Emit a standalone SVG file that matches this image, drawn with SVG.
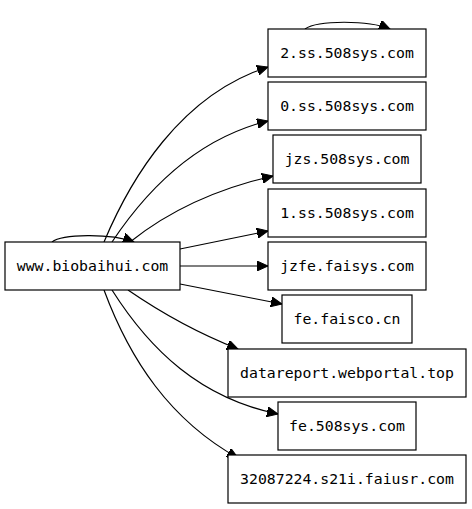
<svg xmlns="http://www.w3.org/2000/svg" width="472" height="509" viewBox="0 0 472 509">
<style>
.n rect{fill:#fff;stroke:#000;stroke-width:1.2}
.n text{font-family:"DejaVu Sans Mono","Liberation Mono",monospace;font-size:14.8px;fill:#000;text-anchor:middle}
.e path{fill:none;stroke:#000;stroke-width:1.2}
</style>
<defs>
<marker id="a" markerUnits="userSpaceOnUse" markerWidth="12" markerHeight="10" viewBox="0 0 12 10" refX="11" refY="5" orient="auto">
<path d="M0,0 L11,5 L0,10 Z" fill="#000" stroke="#000" stroke-width="1"/>
</marker>
</defs>
<rect width="472" height="509" fill="#fff"/>
<g id="edges" class="e">
<path d="M52,242 C62,234 110,233 134,242" marker-end="url(#a)"/>
<path d="M305,29 C318,20 368,20 390,29" marker-end="url(#a)"/>
<path d="M104,242 C130,180 180,95 268,67" marker-end="url(#a)"/>
<path d="M112,242 C140,200 190,140 268,121" marker-end="url(#a)"/>
<path d="M130,242 C170,210 220,188 273,176" marker-end="url(#a)"/>
<path d="M180,249 L268,231" marker-end="url(#a)"/>
<path d="M180,266 L268,266" marker-end="url(#a)"/>
<path d="M180,284 L282,304" marker-end="url(#a)"/>
<path d="M128,290 C160,312 200,334 238,349" marker-end="url(#a)"/>
<path d="M112,290 C150,350 200,398 278,414" marker-end="url(#a)"/>
<path d="M104,290 C130,360 170,420 238,458" marker-end="url(#a)"/>
</g>
<g id="n0" class="n"><rect x="5" y="242" width="175" height="48"/><text x="92.5" y="271">www.biobaihui.com</text></g>
<g id="n1" class="n"><rect x="268" y="29" width="158" height="48"/><text x="347" y="58">2.ss.508sys.com</text></g>
<g id="n2" class="n"><rect x="268" y="82" width="158" height="48"/><text x="347" y="111">0.ss.508sys.com</text></g>
<g id="n3" class="n"><rect x="273" y="135" width="148" height="48"/><text x="347" y="164">jzs.508sys.com</text></g>
<g id="n4" class="n"><rect x="268" y="189" width="158" height="48"/><text x="347" y="218">1.ss.508sys.com</text></g>
<g id="n5" class="n"><rect x="268" y="242" width="158" height="48"/><text x="347" y="271">jzfe.faisys.com</text></g>
<g id="n6" class="n"><rect x="282" y="295" width="130" height="48"/><text x="347" y="324">fe.faisco.cn</text></g>
<g id="n7" class="n"><rect x="228" y="349" width="238" height="48"/><text x="347" y="378">datareport.webportal.top</text></g>
<g id="n8" class="n"><rect x="278" y="402" width="138" height="48"/><text x="347" y="431">fe.508sys.com</text></g>
<g id="n9" class="n"><rect x="228" y="455" width="238" height="48"/><text x="347" y="484">32087224.s21i.faiusr.com</text></g>
</svg>
